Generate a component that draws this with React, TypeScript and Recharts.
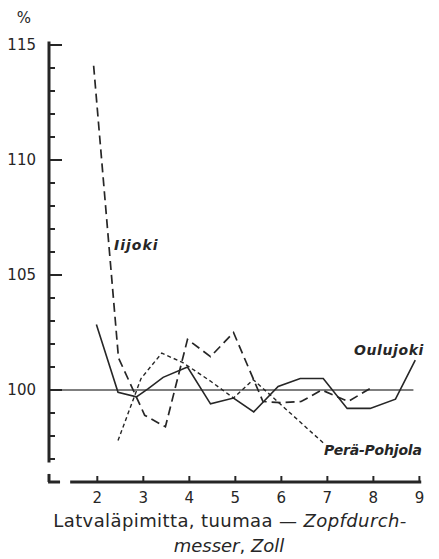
import React from "react";
import { LineChart, Line, XAxis, YAxis, ReferenceLine } from "recharts";

// tick values
const xTicks = [2, 3, 4, 5, 6, 7, 8, 9];
const yTicks = [97, 98, 99, 100, 101, 102, 103, 104, 105, 106, 107, 108, 109, 110, 111, 112, 113, 114, 115];
const yLabels = [100, 105, 110, 115];

// Oulujoki (solid)
const oulujokiX = [1.98, 2.45, 2.85, 3.1, 3.43, 3.96, 4.46, 4.96, 5.4, 5.93, 6.41, 6.91, 7.43, 7.93, 8.48, 8.91];
const oulujokiY = [102.85, 99.9, 99.7, 100.05, 100.55, 101.0, 99.4, 99.65, 99.05, 100.15, 100.5, 100.5, 99.2, 99.2, 99.6, 101.3];

// Iijoki (long dash)
const iijokiX = [1.92, 2.46, 3.03, 3.48, 3.96, 4.46, 4.96, 5.6, 6.0, 6.43, 6.88, 7.45, 7.96];
const iijokiY = [114.1, 101.4, 98.9, 98.4, 102.2, 101.45, 102.5, 99.5, 99.45, 99.5, 100.0, 99.5, 100.1];

// Perä-Pohjola (short dash)
const peraX = [2.45, 2.95, 3.4, 3.85, 4.45, 4.96, 5.39, 6.91];
const peraY = [97.8, 100.5, 101.6, 101.2, 100.4, 99.65, 100.45, 97.7];

const zip = (xs: number[], ys: number[]) => xs.map((x, i) => ({ x, y: ys[i] }));

const INK = "#262626";
// no serif face turned up in the sandbox, DejaVu Sans is the closest in width
const plain = { fontFamily: "DejaVu Sans, sans-serif" };
const hand = { fontFamily: "DejaVu Sans, sans-serif", fontStyle: "italic", fontWeight: "bold" } as const;

const XTick = (props: any) => {
    const { x, y, payload } = props;
    return (
        <g>
            <line x1={x} y1={y} x2={x} y2={y - 6} stroke={INK} strokeWidth={2} />
            <text x={x} y={y + 21} textAnchor="middle" style={plain} fontSize={15} fill={INK}>
                {payload.value}
            </text>
        </g>
    );
};

const YTick = (props: any) => {
    const { x, y, payload } = props;
    const major = yLabels.includes(payload.value);
    return (
        <g>
            <line x1={x} y1={y} x2={x + (major ? 13 : 6)} y2={y} stroke={INK} strokeWidth={2} />
            {major && (
                <text x={x - 13} y={y + 5} textAnchor="end" style={plain} fontSize={15} fill={INK}>
                    {payload.value}
                </text>
            )}
        </g>
    );
};

export default function App() {
    const oulujoki = zip(oulujokiX, oulujokiY);
    const iijoki = zip(iijokiX, iijokiY);
    const pera = zip(peraX, peraY);

    return (
        <div style={{ position: "absolute", left: 0, top: 0, width: 439, height: 559, background: "#fff" }}>
            <LineChart width={439} height={559} margin={{ top: 45, right: 15, left: 0, bottom: 0 }}>
                <XAxis
                    type="number"
                    dataKey="x"
                    domain={[0.95, 9.1]}
                    ticks={xTicks}
                    allowDataOverflow
                    axisLine={false}
                    tickLine={false}
                    tickSize={0}
                    tickMargin={0}
                    height={77}
                    tick={<XTick />}
                    interval={0}
                />
                <YAxis
                    type="number"
                    domain={[96, 115]}
                    ticks={yTicks}
                    allowDataOverflow
                    axisLine={false}
                    tickLine={false}
                    tickSize={0}
                    tickMargin={0}
                    width={49}
                    tick={<YTick />}
                    interval={0}
                />
                {/* axes drawn by hand, with the break at the corner */}
                <ReferenceLine segment={[{ x: 0.95, y: 115.15 }, { x: 0.95, y: 96.85 }]} stroke={INK} strokeWidth={3} ifOverflow="visible" />
                <ReferenceLine segment={[{ x: 0.95, y: 96.35 }, { x: 0.95, y: 96 }]} stroke={INK} strokeWidth={3} ifOverflow="visible" />
                <ReferenceLine segment={[{ x: 0.93, y: 96 }, { x: 1.19, y: 96 }]} stroke={INK} strokeWidth={3} ifOverflow="visible" />
                <ReferenceLine segment={[{ x: 1.41, y: 96 }, { x: 9.04, y: 96 }]} stroke={INK} strokeWidth={3} ifOverflow="visible" />
                <ReferenceLine segment={[{ x: 0.95, y: 100 }, { x: 8.87, y: 100 }]} stroke="#555" strokeWidth={1.5} ifOverflow="visible" />

                <Line data={oulujoki} dataKey="y" stroke={INK} strokeWidth={1.6} dot={false} isAnimationActive={false} />
                <Line data={iijoki} dataKey="y" stroke={INK} strokeWidth={1.7} strokeDasharray="9 5" dot={false} isAnimationActive={false} />
                <Line data={pera} dataKey="y" stroke={INK} strokeWidth={1.4} strokeDasharray="4 3" dot={false} isAnimationActive={false} />
            </LineChart>

            <svg width={439} height={559} style={{ position: "absolute", left: 0, top: 0, pointerEvents: "none" }}>
                <text x={24} y={23} textAnchor="middle" style={plain} fontSize={15} fill={INK}>%</text>
                <text x={114} y={250} style={hand} fontSize={14} letterSpacing={1} fill={INK}>Iijoki</text>
                <text x={354} y={355} style={hand} fontSize={14} letterSpacing={0.6} fill={INK}>Oulujoki</text>
                <text x={324} y={455} style={hand} fontSize={14} letterSpacing={-0.2} fill={INK}>Perä-Pohjola</text>
                <text x={230} y={527} textAnchor="middle" style={plain} fontSize={18} letterSpacing={0.4} fill={INK}>
                    Latvaläpimitta,  tuumaa — <tspan fontStyle="italic">Zopfdurch-</tspan>
                </text>
                <text x={229} y={552} textAnchor="middle" style={plain} fontSize={18} fontStyle="italic" fill={INK}>
                    messer<tspan fontStyle="normal">, </tspan>Zoll
                </text>
            </svg>
        </div>
    );
}
